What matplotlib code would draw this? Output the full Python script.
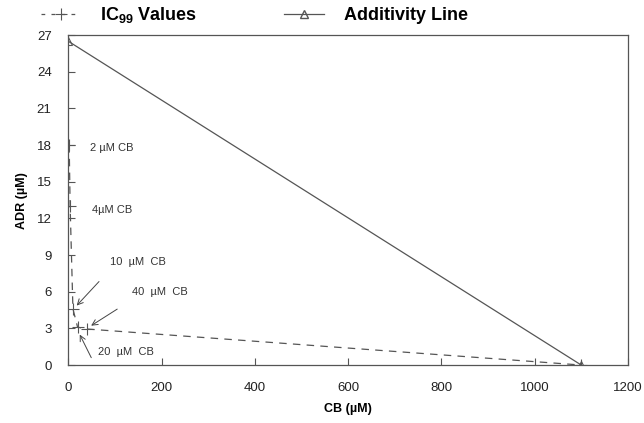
import matplotlib
matplotlib.use("Agg")
import matplotlib.pyplot as plt
from matplotlib.lines import Line2D

plt.rcParams['font.family'] = ['Liberation Sans', 'DejaVu Sans']
plt.rcParams['mathtext.fontset'] = 'custom'
plt.rcParams['mathtext.rm'] = 'Liberation Sans:bold'
plt.rcParams['mathtext.default'] = 'rm'

# IC99 isobologram points (CB uM, ADR uM)
cb_ic99 = [2, 4, 10, 20, 40, 1100]
adr_ic99 = [18, 13, 4.6, 3.1, 2.95, 0]

# additivity line end points
cb_add = [0, 1100]
adr_add = [26.5, 0]

labels = ["2 \u00b5M CB", "4\u00b5M CB", "10  \u00b5M  CB", "40  \u00b5M  CB", "20  \u00b5M  CB"]
label_xy = [(47, 17.8), (51, 12.7), (90, 8.4), (137, 6.0), (64, 1.1)]
arrow_from = [None, None, (70, 7.0), (110, 4.7), (52, 0.4)]
arrow_to = [None, None, (14, 4.7), (44, 3.1), (22, 2.7)]

fig = plt.figure(figsize=(6.44, 4.23), dpi=100)
ax = fig.add_axes([0.106, 0.137, 0.869, 0.78])

line_col = '#555555'
ax.plot(cb_add, adr_add, color=line_col, lw=0.9, marker='^', ms=6,
        mfc='none', mec=line_col, mew=0.8)
ax.plot(cb_ic99, adr_ic99, color=line_col, lw=0.9, ls=(0, (6, 5)),
        marker='+', ms=8, mew=0.8)

for txt, xy, a0, a1 in zip(labels, label_xy, arrow_from, arrow_to):
    ax.text(xy[0], xy[1], txt, fontsize=8, color='#333333', va='center')
    if a0 is not None:
        ax.annotate('', xy=a1, xytext=a0,
                    arrowprops=dict(arrowstyle='->', color='#444444', lw=0.7))

ax.set_xlim(0, 1200)
ax.set_ylim(0, 27)
ax.set_xticks(range(0, 1201, 200))
ax.set_yticks(range(0, 28, 3))
ax.tick_params(direction='in', length=5, width=0.8, labelsize=9.5,
               colors='#555555', labelcolor='#222222')
ax.tick_params(axis='x', pad=12)
ax.tick_params(axis='y', pad=12)
for s in ax.spines.values():
    s.set_color('#555555')
    s.set_linewidth(0.9)

ax.set_xlabel('CB (\u00b5M)', fontsize=9, fontweight='bold', labelpad=7)
ax.set_ylabel('ADR (\u00b5M)', fontsize=9, fontweight='bold', labelpad=6)

handles = [
    Line2D([], [], color=line_col, lw=0.9, ls=(0, (3, 5)), marker='+', ms=8, mew=0.8),
    Line2D([], [], color=line_col, lw=0.9, marker='^', ms=6, mfc='none', mec=line_col),
]
fig.legend(handles, ['IC$_{99}$ Values', 'Additivity Line'], loc='upper left',
           bbox_to_anchor=(0.055, 1.0), ncol=2, frameon=False, columnspacing=4.8,
           handlelength=2.2, handletextpad=1.1, borderpad=0.3, borderaxespad=0,
           prop={'weight': 'bold', 'size': 13})

fig.savefig('out.png', dpi=100)
